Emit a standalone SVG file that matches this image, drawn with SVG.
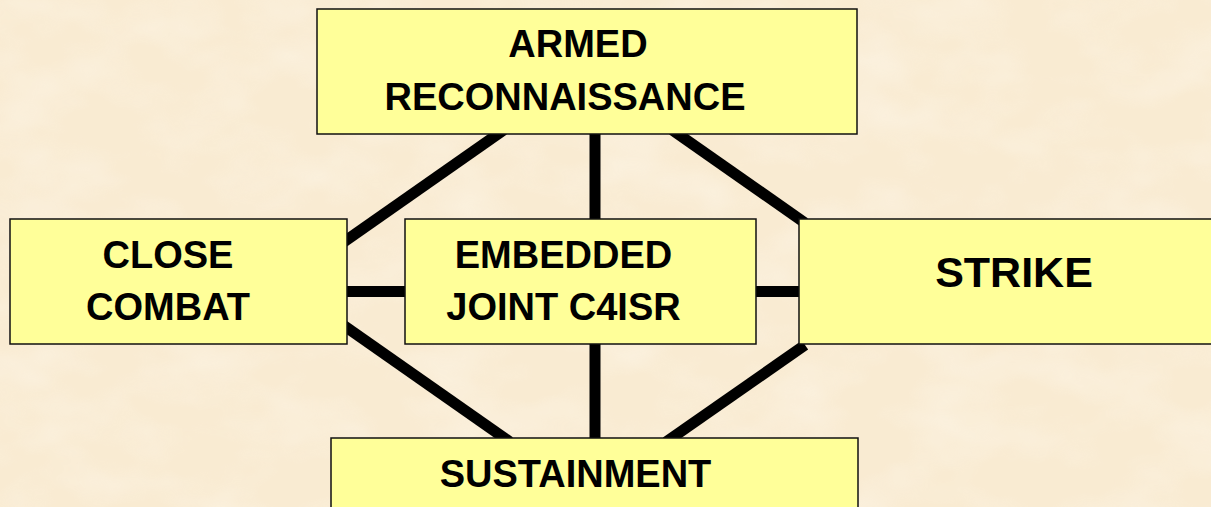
<svg xmlns="http://www.w3.org/2000/svg" width="1211" height="507" viewBox="0 0 1211 507">
  <defs>
    <filter id="paper" x="0" y="0" width="100%" height="100%">
      <feTurbulence type="fractalNoise" baseFrequency="0.012 0.02" numOctaves="3" seed="7" result="n"/>
      <feColorMatrix in="n" type="matrix" values="0 0 0 0 1  0 0 0 0 0.98  0 0 0 0 0.93  1.4 0 0 0 -0.55"/>
    </filter>
    <style>
      .box { fill: #FFFF99; stroke: #111; stroke-width: 1.5; }
      .lbl { font-family: "Liberation Sans", Arial, sans-serif; font-weight: bold; font-size: 38px; fill: #000; text-anchor: middle; }
      .con { stroke: #000; stroke-width: 11; stroke-linecap: butt; fill: none; }
    </style>
  </defs>
  <rect x="0" y="0" width="1211" height="507" fill="#F9EBD2"/>
  <rect x="0" y="0" width="1211" height="507" filter="url(#paper)" opacity="0.45"/>

  <g id="connectors">
    <line class="con" x1="595" y1="130" x2="595" y2="225"/>
    <line class="con" x1="595" y1="340" x2="595" y2="442"/>
    <line class="con" x1="340" y1="291.5" x2="410" y2="291.5"/>
    <line class="con" x1="750" y1="291.5" x2="805" y2="291.5"/>
    <line class="con" x1="503.7" y1="130" x2="341.3" y2="243.7"/>
    <line class="con" x1="672.3" y1="130" x2="804.7" y2="222.7"/>
    <line class="con" x1="341.3" y1="323.8" x2="509.7" y2="441.7"/>
    <line class="con" x1="805" y1="345" x2="666" y2="442"/>
  </g>

  <g id="armed-reconnaissance">
    <rect class="box" x="317" y="9" width="540" height="125"/>
    <text class="lbl" x="578" y="57">ARMED</text>
    <text class="lbl" x="565" y="110">RECONNAISSANCE</text>
  </g>

  <g id="close-combat">
    <rect class="box" x="10" y="219" width="337" height="125"/>
    <text class="lbl" x="168" y="267.5">CLOSE</text>
    <text class="lbl" x="168" y="319.5">COMBAT</text>
  </g>

  <g id="embedded-joint-c4isr">
    <rect class="box" x="405" y="219" width="351" height="125"/>
    <text class="lbl" x="563.5" y="267.5">EMBEDDED</text>
    <text class="lbl" x="563.5" y="319.5">JOINT C4ISR</text>
  </g>

  <g id="strike">
    <rect class="box" x="799" y="219" width="420" height="125"/>
    <text class="lbl" x="1014" y="287" style="font-size:43px">STRIKE</text>
  </g>

  <g id="sustainment">
    <rect class="box" x="331" y="438" width="527" height="80"/>
    <text class="lbl" x="575.5" y="486.5">SUSTAINMENT</text>
  </g>
</svg>
